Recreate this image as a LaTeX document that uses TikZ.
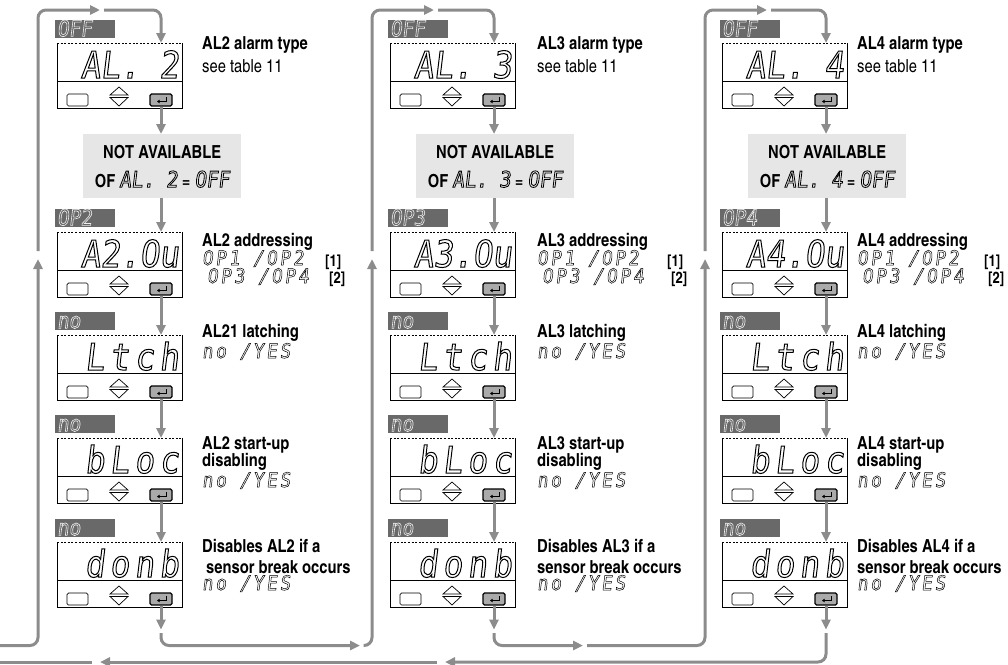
\documentclass[tikz,border=0pt]{standalone}
\usepackage{fontspec}
\setmainfont{texgyreheroscn}[Extension=.otf,UprightFont=*-regular,BoldFont=*-bold,ItalicFont=*-italic,BoldItalicFont=*-bolditalic]
\newfontfamily\segfont{DejaVu Sans Mono}[FakeSlant=0.12,FakeStretch=0.88]
\newfontfamily\segfontsp{DejaVu Sans Mono}[FakeSlant=0.12,FakeStretch=0.88,LetterSpace=14]
\newfontfamily\segfontsm{DejaVu Sans Mono}[FakeSlant=0.12,FakeStretch=0.88,LetterSpace=14]
\usetikzlibrary{arrows.meta,calc}
\definecolor{flowgray}{RGB}{140,140,140}
\definecolor{nagray}{RGB}{230,230,230}
\definecolor{labgray}{RGB}{105,105,105}
\definecolor{labtext}{RGB}{240,240,240}
\definecolor{btngray}{RGB}{170,170,170}
\newcommand\segBig{\mdseries\segfont\fontsize{37}{37}\selectfont}
\newcommand\segBigSp{\mdseries\segfontsp\fontsize{37}{37}\selectfont}
\newcommand\segSm{\mdseries\segfontsm\fontsize{20}{20}\selectfont}
\newcommand\segLab{\mdseries\segfont\fontsize{22}{22}\selectfont}
\newcommand\segNA{\mdseries\segfont\fontsize{22}{22}\selectfont}
\newcommand\lblBold{\bfseries\fontsize{18}{20}\selectfont}
\newcommand\lblBra{\bfseries\fontsize{16}{17}\selectfont}
\newcommand\lblReg{\mdseries\fontsize{18}{20}\selectfont}
\newcommand\lblNA{\bfseries\fontsize{18}{29}\selectfont}
% outlined (stroked) glyphs, like the segments of an LCD
\newcommand\olt[2][0.55]{\special{pdf:literal direct #1 w 1 Tr}#2\special{pdf:literal direct 0 Tr}}
\tikzset{
  lcdbox/.style={minimum width=125pt,minimum height=65pt,inner sep=0pt,outer sep=0pt,anchor=north west},
  lcdedge/.style={line width=0.9pt,black},
  lcddash/.style={line width=0.8pt,black,dash pattern=on 2pt off 1.6pt},
  lcdthin/.style={line width=0.8pt,black},
  sbtn/.style={draw,line width=0.7pt,rounded corners=1.5pt,minimum width=21pt,minimum height=12pt,inner sep=0pt,fill=white},
  ebtn/.style={draw,line width=1.1pt,rounded corners=1.5pt,minimum width=22pt,minimum height=12pt,inner sep=0pt,fill=btngray},
  tri/.style={fill=white,draw=black,line width=0.7pt,line join=miter},
  darklab/.style={fill=labgray,minimum width=60pt,minimum height=18pt,text width=56pt,align=left,
     inner xsep=2pt,inner ysep=1.5pt,text height=15pt,text depth=0pt,anchor=south west,text=labtext,font=\segLab},
  nabox/.style={fill=nagray,minimum width=158pt,minimum height=64pt,anchor=north west,align=center,inner sep=0pt,font=\lblNA},
  lbl/.style={anchor=base west,inner sep=0pt},
  flow/.style={draw=flowgray,line width=3pt,rounded corners=8pt},
  flowarrow/.style={flow,-{Triangle[length=10pt,width=9pt]}},
}
\newcommand\lcd[6]{%
  \node[lcdbox] (#1) at (#2,#3) {};
  \draw[lcdedge] (#1.north west) -- (#1.south west) -- (#1.south east) -- (#1.north east);
  \draw[lcddash] (#1.north west) -- (#1.north east);
  \draw[lcdthin] ($(#1.north west)+(0,38.5)$) -- ($(#1.north east)+(0,38.5)$);
  \node[anchor=base east,inner sep=0pt,font=#4] (t#1) at ($(#1.north west)+(122,35)$) {\olt[1.0]{#5}};
  \node[sbtn] (b#1) at ($(#1.north west)+(20.5,57)$) {};
  \node[ebtn] (e#1) at ($(#1.north west)+(104,57)$) {};
  \draw[line width=0.8pt,-{Triangle[length=2.6pt,width=3.4pt]}] ($(e#1.center)+(5,-3)$) -- ++(0,4.5) -- ++(-9,0);
  \filldraw[tri] ($(#1.north west)+(53,52)$) -- ++(9,-8) -- ++(9,8) -- cycle;
  \filldraw[tri] ($(#1.north west)+(53,54.5)$) -- ++(9,8.5) -- ++(9,-8.5) -- cycle;
  \node[darklab] (l#1) at ($(#1.north west)+(-2,-5)$) {\olt[0.6]{#6}};
}
\begin{document}
\begin{tikzpicture}[x=1pt,y=-1pt]
\useasboundingbox (0,0) rectangle (1008,664);
\foreach \ci/\X/\V/\LX/\an/\latch/\sx/\bra in {1/57/38/202/2/AL21/206/325,2/390/372/537/3/AL3/537/667,3/722/705/857/4/AL4/857/984}{
  \lcd{d\ci1}{\X}{43}{\segBig}{AL. \an}{OFF}
  \lcd{d\ci2}{\X}{232}{\segBig}{A\an.Ou}{OP\an}
  \lcd{d\ci3}{\X}{335}{\segBigSp}{Ltch}{no}
  \lcd{d\ci4}{\X}{438}{\segBigSp}{bLoc}{no}
  \lcd{d\ci5}{\X}{542}{\segBigSp}{donb}{no}
  \node[nabox] (na\ci) at ({\X+26},134) {NOT AVAILABLE\\OF {\segNA\olt[0.8]{AL. \an}} = {\segNA\olt[0.8]{OFF}}};
  % right-hand labels
  \node[lbl,font=\lblBold] (r\ci1a) at (\LX,49) {AL\an\ alarm type};
  \node[lbl,font=\lblReg] (r\ci1b) at (\LX,72.5) {see table 11};
  \node[lbl,font=\lblBold] (r\ci2a) at (\LX,246) {AL\an\ addressing};
  \node[lbl,font=\segSm] (r\ci2b) at (\LX,265) {\olt[0.5]{OP1 /OP2}};
  \node[lbl,font=\segSm] (r\ci2c) at ({\LX+5},283) {\olt[0.5]{OP3 /OP4}};
  \node[lbl,font=\lblBra] (r\ci2d) at (\bra,266) {[1]};
  \node[lbl,font=\lblBra] (r\ci2e) at ({\bra+4},283) {[2]};
  \node[lbl,font=\lblBold] (r\ci3a) at (\LX,337) {\latch\ latching};
  \node[lbl,font=\segSm] (r\ci3b) at (\LX,358) {\olt[0.5]{no /YES}};
  \node[lbl,font=\lblBold] (r\ci4a) at (\LX,449) {AL\an\ start-up};
  \node[lbl,font=\lblBold] (r\ci4b) at (\LX,466) {disabling};
  \node[lbl,font=\segSm] (r\ci4c) at (\LX,487) {\olt[0.5]{no /YES}};
  \node[lbl,font=\lblBold] (r\ci5a) at (\LX,552) {Disables AL\an\ if a};
  \node[lbl,font=\lblBold] (r\ci5b) at (\sx,573) {sensor break occurs};
  \node[lbl,font=\segSm] (r\ci5c) at (\LX,590) {\olt[0.5]{no /YES}};
  % top loop connector
  \coordinate (vs\ci) at (\V,251);
  \coordinate (vt\ci) at (\V,259);
  \coordinate (tt\ci) at ({\V+62},10);
  \coordinate (tc\ci) at ({\V+66},10);
  \draw[flowarrow] (vs\ci) -- (vs\ci |- tt\ci) -- (tt\ci);
  \draw[flowarrow] (tc\ci) -- (tc\ci -| ed\ci1) -- (ed\ci1 |- d\ci1.north);
  % column arrows
  \draw[flowarrow] (ed\ci1.south) -- (ed\ci1.south |- na\ci.north);
  \draw[flowarrow] (ed\ci1.south |- na\ci.south) -- (ed\ci1.south |- d\ci2.north);
  \foreach \ia/\ib in {2/3,3/4,4/5}{
    \draw[flowarrow] (ed\ci\ia.south) -- (ed\ci\ia.south |- d\ci\ib.north);
  }
  \coordinate (be\ci) at ($(ed\ci5.south)+(0,24)$);
  \coordinate (bs\ci) at ($(ed\ci5.south)+(0,27.5)$);
  \draw[flowarrow] (ed\ci5.south) -- (be\ci);
}
% bottom routing
\coordinate (rowA) at (0,645.5);
\coordinate (rowB) at (0,662);
\draw[flowarrow] (rowA) -- (rowA -| vt1) -- (vt1);
\coordinate (ta2) at (360,645.5);
\coordinate (tb2) at (363.5,645.5);
\coordinate (ta3) at (583,645.5);
\coordinate (tb3) at (587,645.5);
\draw[flowarrow] (bs1) -- (bs1 |- rowA) -- (ta2);
\draw[flowarrow] (tb2) -- (tb2 -| vt2) -- (vt2);
\draw[flowarrow] (bs2) -- (bs2 |- rowA) -- (ta3);
\draw[flowarrow] (tb3) -- (tb3 -| vt3) -- (vt3);
\coordinate (ba1) at (445,662);
\coordinate (bb1) at (437,662);
\coordinate (ba2) at (100,662);
\coordinate (bb2) at (92,662);
\draw[flowarrow] (bs3) -- (bs3 |- rowB) -- (ba1);
\draw[flowarrow] (bb1) -- (ba2);
\draw[flow] (bb2) -- (rowB);
\end{tikzpicture}
\end{document}
